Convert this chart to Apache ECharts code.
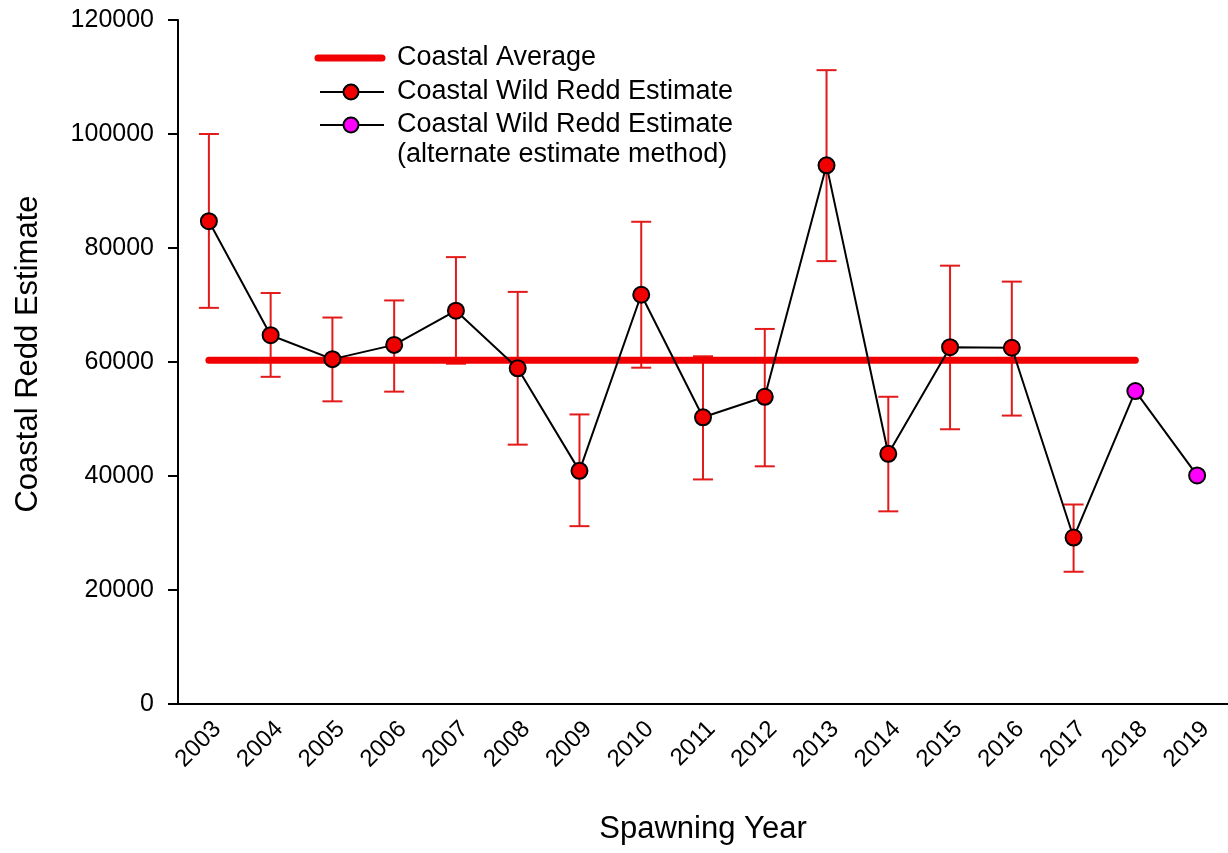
<!DOCTYPE html>
<html>
<head>
<meta charset="utf-8">
<script src="https://cdn.jsdelivr.net/npm/echarts@6/dist/echarts.min.js"></script>
<style>
  html, body { margin: 0; padding: 0; background: #fff; }
  #chart { width: 1228px; height: 853px; }
</style>
</head>
<body>
<div id="chart"></div>
<script>
// ---- data ----
const years = ['2003','2004','2005','2006','2007','2008','2009','2010','2011','2012','2013','2014','2015','2016','2017','2018','2019'];
const wildEstimate = [84700, 64700, 60500, 63000, 69000, 58900, 40900, 71800, 50300, 53900, 94500, 43900, 62600, 62500, 29200, null, null];
const alternateEstimate = [null, null, null, null, null, null, null, null, null, null, null, null, null, null, 29200, 54900, 40100];
const errorLow  = [69500, 57400, 53100, 54800, 59700, 45500, 31200, 59000, 39400, 41700, 77700, 33800, 48200, 50600, 23200];
const errorHigh = [100000, 72100, 67800, 70800, 78400, 72300, 50800, 84600, 61000, 65800, 111200, 53900, 76900, 74100, 35000];
const coastalAverage = 60300;
const averageYears = 16; // 2003..2018
const yTicks = [0, 20000, 40000, 60000, 80000, 100000, 120000];

// ---- build ----
const FONT = '"Liberation Sans", Arial, sans-serif';
const RED = '#f00000';
const ERR = '#e31a1a';
const MAGENTA = '#ff00ff';

const errData = errorLow.map((lo, i) => [i, lo, errorHigh[i]]);
const avgData = years.map((y, i) => i < averageYears ? coastalAverage : null);
const altData = alternateEstimate.map((v, i) => {
  if (v === null) return null;
  if (wildEstimate[i] !== null) return { value: v, symbol: 'none' };
  return v;
});

const chart = echarts.init(document.getElementById('chart'), null, { renderer: 'canvas' });

const legendFont = '27px "Liberation Sans", Arial, sans-serif';

const option = {
  backgroundColor: '#ffffff',
  animation: false,
  grid: { left: 178, top: 20, right: 0, bottom: 149, containLabel: false },
  xAxis: {
    type: 'category',
    data: years,
    boundaryGap: true,
    name: 'Spawning Year',
    nameLocation: 'middle',
    nameGap: 110,
    nameTextStyle: { fontFamily: FONT, fontSize: 31, color: '#000' },
    axisLine: { lineStyle: { color: '#000', width: 2 } },
    axisTick: { alignWithLabel: true, length: 10, lineStyle: { color: '#000', width: 2 } },
    axisLabel: { rotate: 45, margin: 13, verticalAlign: 'top', fontFamily: FONT, fontSize: 24, color: '#000' },
    splitLine: { show: false }
  },
  yAxis: {
    type: 'value',
    min: yTicks[0],
    max: yTicks[yTicks.length - 1],
    interval: yTicks[1] - yTicks[0],
    name: 'Coastal Redd Estimate',
    nameLocation: 'middle',
    nameGap: 134,
    nameTextStyle: { fontFamily: FONT, fontSize: 31, color: '#000', padding: [0, 0, 0, 16] },
    axisLine: { show: true, lineStyle: { color: '#000', width: 2 } },
    axisTick: { show: true, length: 10, lineStyle: { color: '#000', width: 2 } },
    axisLabel: { margin: 24, fontFamily: FONT, fontSize: 25, color: '#000', formatter: function (v) { return String(v); } },
    splitLine: { show: false }
  },
  series: [
    {
      name: 'errors',
      type: 'custom',
      data: errData,
      encode: { x: 0, y: [1, 2] },
      z: 1,
      renderItem: function (params, api) {
        const idx = api.value(0);
        const lo = api.coord([idx, api.value(1)]);
        const hi = api.coord([idx, api.value(2)]);
        const hw = 10;
        const style = { stroke: ERR, lineWidth: 2, fill: null };
        return {
          type: 'group',
          children: [
            { type: 'line', shape: { x1: lo[0], y1: lo[1], x2: hi[0], y2: hi[1] }, style: style },
            { type: 'line', shape: { x1: hi[0] - hw, y1: hi[1], x2: hi[0] + hw, y2: hi[1] }, style: style },
            { type: 'line', shape: { x1: lo[0] - hw, y1: lo[1], x2: lo[0] + hw, y2: lo[1] }, style: style }
          ]
        };
      }
    },
    {
      name: 'Coastal Average',
      type: 'line',
      data: avgData,
      symbol: 'none',
      z: 2,
      lineStyle: { color: RED, width: 7, cap: 'round' }
    },
    {
      name: 'Coastal Wild Redd Estimate (alternate estimate method)',
      type: 'line',
      data: altData,
      z: 3,
      symbol: 'circle',
      symbolSize: 16,
      lineStyle: { color: '#000', width: 2 },
      itemStyle: { color: MAGENTA, borderColor: '#000', borderWidth: 2 }
    },
    {
      name: 'Coastal Wild Redd Estimate',
      type: 'line',
      data: wildEstimate,
      z: 4,
      symbol: 'circle',
      symbolSize: 16,
      lineStyle: { color: '#000', width: 2 },
      itemStyle: { color: RED, borderColor: '#000', borderWidth: 2 }
    }
  ],
  graphic: [
    { type: 'line', shape: { x1: 318, y1: 58, x2: 382, y2: 58 }, style: { stroke: RED, lineWidth: 7, lineCap: 'round' } },
    { type: 'text', x: 397, y: 58, style: { text: 'Coastal Average', font: legendFont, fill: '#000', textVerticalAlign: 'middle', verticalAlign: 'middle' } },

    { type: 'line', shape: { x1: 320, y1: 92, x2: 384, y2: 92 }, style: { stroke: '#000', lineWidth: 2 } },
    { type: 'circle', shape: { cx: 351, cy: 92, r: 7.5 }, style: { fill: RED, stroke: '#000', lineWidth: 2 } },
    { type: 'text', x: 397, y: 92, style: { text: 'Coastal Wild Redd Estimate', font: legendFont, fill: '#000', textVerticalAlign: 'middle', verticalAlign: 'middle' } },

    { type: 'line', shape: { x1: 320, y1: 125, x2: 384, y2: 125 }, style: { stroke: '#000', lineWidth: 2 } },
    { type: 'circle', shape: { cx: 351, cy: 125, r: 7.5 }, style: { fill: MAGENTA, stroke: '#000', lineWidth: 2 } },
    { type: 'text', x: 397, y: 125, style: { text: 'Coastal Wild Redd Estimate', font: legendFont, fill: '#000', textVerticalAlign: 'middle', verticalAlign: 'middle' } },
    { type: 'text', x: 397, y: 155, style: { text: '(alternate estimate method)', font: legendFont, fill: '#000', textVerticalAlign: 'middle', verticalAlign: 'middle' } }
  ]
};

chart.setOption(option);
</script>
</body>
</html>
